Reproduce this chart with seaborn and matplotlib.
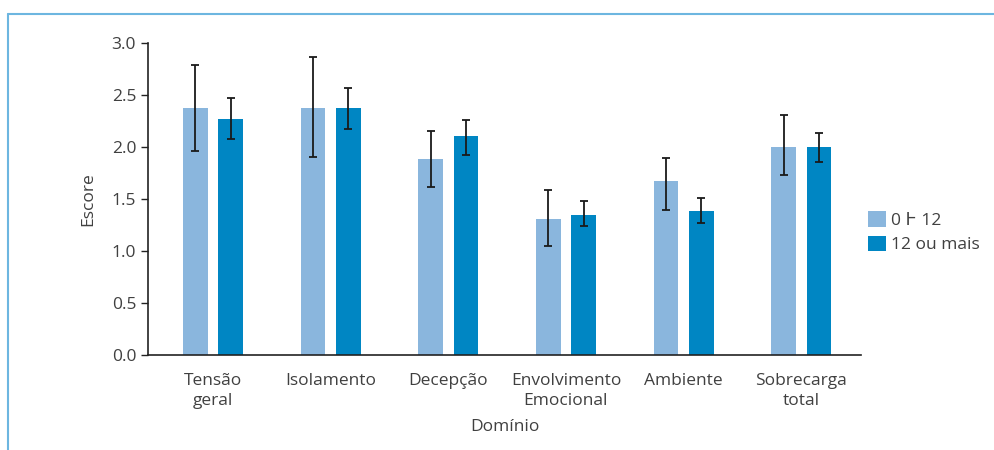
"""Escore por domínio, segundo tempo de cuidado."""

import matplotlib.pyplot as plt
import numpy as np
import pandas as pd
import seaborn as sns
from matplotlib.lines import Line2D

# Data
dominios = [
    "Tensão\ngeral",
    "Isolamento",
    "Decepção",
    "Envolvimento\nEmocional",
    "Ambiente",
    "Sobrecarga\ntotal",
]
grupos = ["0 Ⱶ 12", "12 ou mais"]
escore_0_12 = [2.38, 2.38, 1.89, 1.31, 1.67, 2.00]
escore_12_mais = [2.27, 2.38, 2.11, 1.35, 1.39, 2.00]
# lower / upper limits of the error bars
inf_0_12 = [1.96, 1.91, 1.62, 1.05, 1.40, 1.73]
sup_0_12 = [2.79, 2.87, 2.16, 1.59, 1.90, 2.31]
inf_12_mais = [2.08, 2.17, 1.92, 1.24, 1.27, 1.86]
sup_12_mais = [2.47, 2.57, 2.26, 1.48, 1.51, 2.14]

# Build long table
df = pd.DataFrame(
    {
        "Domínio": dominios * 2,
        "Grupo": [grupos[0]] * 6 + [grupos[1]] * 6,
        "Escore": escore_0_12 + escore_12_mais,
        "inf": inf_0_12 + inf_12_mais,
        "sup": sup_0_12 + sup_12_mais,
    }
)

sns.set_style("ticks")
plt.rcParams["font.family"] = ["Open Sans", "DejaVu Sans"]
text_color = "#404040"
colors = ["#8AB6DD", "#0086C3"]
fs = 12.5

fig = plt.figure(figsize=(9.95, 4.5), dpi=100)
ax = fig.add_axes([0.1487, 0.211, 0.717, 0.693])

sns.barplot(
    data=df,
    x="Domínio",
    y="Escore",
    hue="Grupo",
    palette=colors,
    saturation=1,
    width=0.6,
    gap=0.3,
    errorbar=None,
    linewidth=0,
    ax=ax,
)

# Error bars placed on the bar centres seaborn computed
for container, grupo in zip(ax.containers, grupos):
    sub = df[df["Grupo"] == grupo]
    xs = [p.get_x() + p.get_width() / 2 for p in container.patches]
    y = sub["Escore"].values
    yerr = np.vstack([y - sub["inf"].values, sub["sup"].values - y])
    ax.errorbar(
        xs, y, yerr=yerr, fmt="none", ecolor="#1a1a1a",
        elinewidth=1.3, capsize=3, capthick=1.3, zorder=3,
    )

ax.set_xlim(-0.552, 5.51)
ax.set_ylim(0, 3.0)
ax.set_yticks(np.arange(0, 3.01, 0.5))
ax.set_yticklabels([f"{v:.1f}" for v in np.arange(0, 3.01, 0.5)])
ax.tick_params(axis="y", length=5, width=1, color="#222222",
               labelsize=fs, labelcolor=text_color)
ax.tick_params(axis="x", length=0, labelsize=fs, labelcolor=text_color, pad=13)
for lbl in ax.get_xticklabels():
    lbl.set_linespacing(1.35)
sns.despine(ax=ax)
for side in ["left", "bottom"]:
    ax.spines[side].set_color("#222222")
    ax.spines[side].set_linewidth(1.2)

ax.set_xlabel("Domínio", fontsize=fs, color=text_color, labelpad=7)
ax.set_ylabel("Escore", fontsize=fs, color=text_color, labelpad=11)

ax.legend(
    loc="center left",
    bbox_to_anchor=(1.0, 0.394),
    frameon=False,
    fontsize=fs,
    labelcolor=text_color,
    handlelength=1.0,
    handleheight=1.0,
    handletextpad=0.3,
    labelspacing=0.4,
    borderaxespad=0.0,
    title=None,
)

# Light blue frame around the figure (top and left)
frame_color = "#6DB6E0"
fig.add_artist(Line2D([0.008, 1.0], [0.97, 0.97], color=frame_color, lw=1.5,
                      transform=fig.transFigure))
fig.add_artist(Line2D([0.008, 0.008], [0.0, 0.97], color=frame_color, lw=1.5,
                      transform=fig.transFigure))

fig.savefig("out.png", dpi=100)
